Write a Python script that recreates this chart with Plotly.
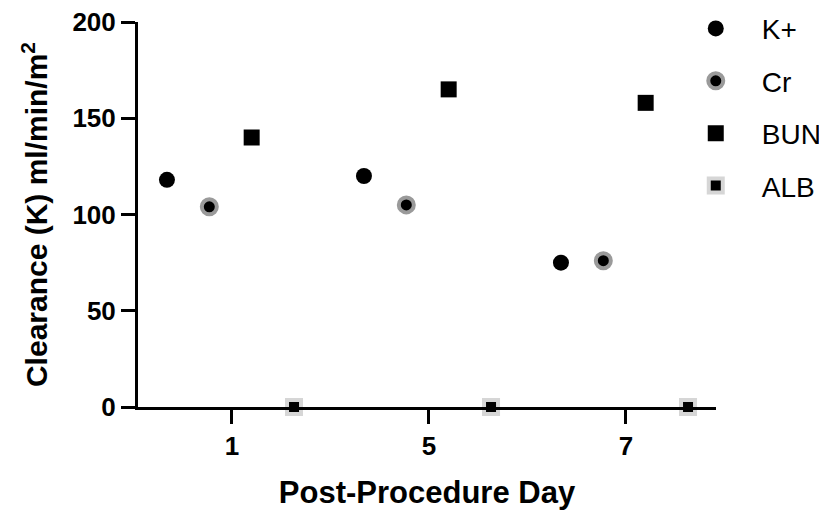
import plotly.graph_objects as go

days = ["1", "5", "7"]
k_plus = [118, 120, 75]
cr = [104, 105, 76]
bun = [140, 165, 158]
alb = [0, 0, 0]

FONT = "Liberation Sans, Arial, sans-serif"

series = [
    ("K+", k_plus, -0.33, dict(symbol="circle", size=16, color="black", line=dict(width=0))),
    ("Cr", cr, -0.115, dict(symbol="circle", size=15, color="black", line=dict(width=4, color="#9a9a9a"))),
    ("BUN", bun, 0.10, dict(symbol="square", size=16, color="black", line=dict(width=0))),
    ("ALB", alb, 0.315, dict(symbol="square", size=14, color="black", line=dict(width=4, color="#d6d6d6"))),
]

fig = go.Figure()
for name, vals, off, mk in series:
    fig.add_trace(go.Scatter(
        x=[i + off for i in range(len(days))],
        y=vals,
        mode="markers",
        name=name,
        legendgroup=name,
        marker=mk,
        cliponaxis=False,
    ))

# the page body adds an 8px offset, so the figure is sized to fit the 827x510 window
fig.update_layout(
    width=819, height=502,
    plot_bgcolor="white", paper_bgcolor="white",
    margin=dict(l=130, r=111, t=14, b=103, autoexpand=False),
    font=dict(family=FONT, color="black"),
    showlegend=True,
    legend=dict(
        x=0.92, y=1.0475, xanchor="left", yanchor="top",
        font=dict(family=FONT, size=28, color="black"),
        itemwidth=82, tracegroupgap=13,
        bgcolor="rgba(0,0,0,0)",
    ),
    xaxis=dict(
        range=[-0.477, 2.457],
        tickvals=list(range(len(days))), ticktext=days,
        showgrid=False, zeroline=False,
        showline=True, linecolor="black", linewidth=3,
        ticks="outside", ticklen=14, tickwidth=3, tickcolor="black",
        tickfont=dict(family=FONT, size=26, color="black", weight="bold"),
        ticklabeloverflow="allow",
        title=dict(text="<b>Post-Procedure Day</b>", font=dict(family=FONT, size=31, color="black"), standoff=27),
        automargin=False,
    ),
    yaxis=dict(
        range=[0, 200],
        tickvals=[0, 50, 100, 150, 200],
        showgrid=False, zeroline=False,
        showline=True, linecolor="black", linewidth=3,
        ticks="outside", ticklen=14, tickwidth=3, tickcolor="black",
        tickfont=dict(family=FONT, size=26, color="black", weight="bold"),
        ticklabeloverflow="allow",
        title=dict(text="<b>Clearance (K) ml/min/m<sup>2</sup></b>", font=dict(family=FONT, size=30, color="black"), standoff=16),
        automargin=False,
    ),
)

fig.write_html("out.html")
